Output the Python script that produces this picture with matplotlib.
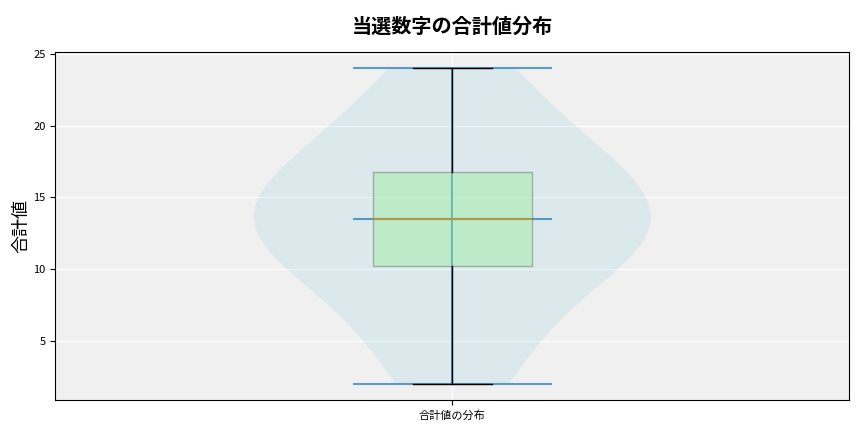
import matplotlib
matplotlib.use("Agg")
import matplotlib.pyplot as plt
import numpy as np

plt.rcParams['font.family'] = ['Noto Sans CJK JP', 'DejaVu Sans']

# 当選数字の合計値
sums = [2, 5, 8, 10, 11, 12, 13, 14, 15, 16, 17, 19, 21, 24]
title = "当選数字の合計値分布"
ylabel = "合計値"
xlabel_tick = "合計値の分布"

fig = plt.figure(figsize=(8.64, 4.32), dpi=100)
ax = fig.add_axes([0.064, 0.074, 0.919, 0.805])
ax.set_facecolor("#f0f0f0")
ax.grid(True, color="white", linewidth=1)
ax.set_axisbelow(True)

vp = ax.violinplot([sums], positions=[1], showmedians=True)
for body in vp['bodies']:
    body.set_facecolor('lightblue')
    body.set_edgecolor('none')
    body.set_alpha(0.3)
for key in ['cmins', 'cmaxes', 'cbars', 'cmedians']:
    vp[key].set_color('#1f77b4')
    vp[key].set_alpha(0.7)
    vp[key].set_linewidth(1.5)

bp = ax.boxplot([sums], positions=[1], whis=[0, 100], patch_artist=True,
                widths=0.2, showfliers=False)
for box in bp['boxes']:
    box.set_facecolor('lightgreen')
    box.set_edgecolor('#555555')
    box.set_alpha(0.4)
for med in bp['medians']:
    med.set_color('#ad964c')
    med.set_linewidth(1.5)
    med.set_zorder(4)

ax.set_xticks([1])
ax.set_xticklabels([xlabel_tick], fontsize=8)
ax.tick_params(axis='y', labelsize=8)
ax.set_ylabel(ylabel, fontsize=13, labelpad=2)
ax.set_title(title, fontsize=14.5, fontweight='bold', pad=14)

fig.savefig("out.png")
